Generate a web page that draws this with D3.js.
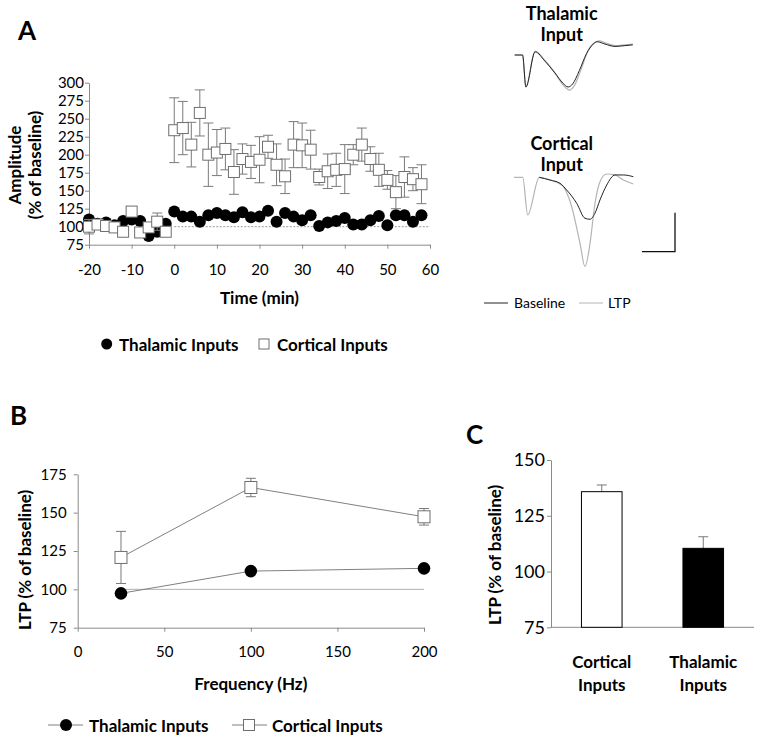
<!DOCTYPE html>
<html>
<head>
<meta charset="utf-8">
<script src="https://cdn.jsdelivr.net/npm/d3@7"></script>
<style>
body { margin: 0; background: #fff; }
svg text { font-family: Lato, 'Open Sans', sans-serif; fill: #000; }
</style>
</head>
<body>
<svg id="svg" width="762" height="744"></svg>
<script>
// ---- panel A data (amplitude, % of baseline) ----
const timeA = [-20, -18, -16, -14, -12, -10, -8, -6, -4, -2,
  0, 2, 4, 6, 8, 10, 12, 14, 16, 18, 20, 22, 24, 26, 28, 30, 32, 34, 36, 38,
  40, 42, 44, 46, 48, 50, 52, 54, 56, 58];
const thalamicA = [110, 104, 106, 102, 108, 110, 108, 87, 93, 104,
  121, 114, 114, 107, 116, 119, 116, 113, 120, 113, 114, 122, 107, 119, 114, 109, 116, 101, 106, 108,
  112, 103, 103, 109, 115, 102, 116, 116, 107, 116];
const corticalA = [100, 103, 101, 99, 93, 121, 92, 99, 107, 93,
  234, 237, 214, 258, 200, 203, 208, 176, 194, 190, 193, 211, 186, 170, 214, 213, 207, 169, 177, 179,
  180, 200, 214, 194, 179, 165, 148, 169, 166, 159];
const corticalAErr = [10, 5, 5, 5, 6, 6, 6, 6, 12, 6,
  45, 37, 31, 32, 44, 32, 29, 31, 21, 23, 32, 16, 29, 24, 32, 31, 27, 11, 24, 23,
  34, 14, 23, 17, 23, 13, 23, 28, 16, 27];
const xTicksA = [-20, -10, 0, 10, 20, 30, 40, 50, 60];
const yTicksA = [75, 100, 125, 150, 175, 200, 225, 250, 275, 300];

// ---- example traces (ms, mV) ----
const thalBase = [[0.1, 0], [1.3, 0], [1.8, -0.41], [3.2, 0.04], [4.7, -0.08], [6.2, -0.23], [7.4, -0.36],
  [8.2, -0.41], [8.9, -0.37], [9.9, -0.2], [11.0, 0.02], [12.0, 0.14], [12.6, 0.17], [13.8, 0.14],
  [15.3, 0.11], [16.8, 0.12], [18.0, 0.13]];
const thalLTP = [[0.1, 0], [1.3, 0], [1.8, -0.41], [3.2, 0.05], [4.7, -0.07], [6.2, -0.23], [7.5, -0.39],
  [8.4, -0.45], [9.1, -0.4], [10.1, -0.2], [11.2, 0.05], [12.2, 0.16], [12.9, 0.18], [14.0, 0.15],
  [15.3, 0.12], [16.8, 0.13], [18.0, 0.14]];
const cortBase = [[3.83, 0], [5.45, -0.035], [6.97, -0.077], [7.98, -0.163], [9.5, -0.333], [10.76, -0.526],
  [11.52, -0.538], [12.27, -0.46], [13.03, -0.29], [14.05, -0.099], [15.3, 0.03], [16.56, 0.03], [18.08, 0.008]];
const cortLTP = [[0, 0], [1.32, 0], [2.08, -0.483], [3.83, 0], [5.45, -0.035], [6.97, -0.086], [7.47, -0.12],
  [8.74, -0.377], [10.0, -0.846], [10.76, -1.146], [11.52, -0.846], [12.27, -0.333], [13.03, -0.056],
  [14.05, 0.042], [15.3, 0.03], [16.56, -0.035], [18.08, -0.086]];
const scaleBarMs = 5;
const scaleBarMv = 0.5;

// ---- panel B data (LTP vs frequency) ----
const freqB = [25, 100, 200];
const corticalB = [120.8, 166.4, 147.3];
const corticalBErr = [17, 6, 5.4];
const thalamicB = [97.4, 111.9, 113.7];
const xTicksB = [0, 50, 100, 150, 200];
const yTicksB = [75, 100, 125, 150, 175];

// ---- panel C data ----
const groupsC = ['Cortical Inputs', 'Thalamic Inputs'];
const ltpC = [135.8, 110.4];
const ltpCErr = [3, 5.2];
const yTicksC = [75, 100, 125, 150];

const svg = d3.select('#svg');
const axisColor = '#8a8a8a';
const errColor = '#7a7a7a';

const styleAxis = (g, fontSize) => {
  g.attr('font-family', null).attr('font-size', null);
  g.selectAll('path, line').attr('stroke', axisColor);
  g.selectAll('text').style('font-size', fontSize + 'px').attr('fill', '#000');
};

const errPath = (x, lo, hi, cap) =>
  `M${x},${hi}V${lo}M${x - cap},${hi}H${x + cap}M${x - cap},${lo}H${x + cap}`;

//------ panel A ------
const xA = d3.scaleLinear().domain([-20, 60]).range([89, 430]);
const yA = d3.scaleLinear().domain([75, 300]).range([244.7, 82.7]);

svg.append('g').attr('transform', `translate(0,${yA(75)})`)
  .call(d3.axisBottom(xA).tickValues(xTicksA).tickSize(4).tickSizeOuter(0).tickPadding(16).tickFormat(d => String(d)))
  .call(g => styleAxis(g, 15));
svg.append('g').attr('transform', `translate(${xA(-20)},0)`)
  .call(d3.axisLeft(yA).tickValues(yTicksA).tickSize(4).tickSizeOuter(0).tickPadding(1))
  .call(g => styleAxis(g, 15));

// dotted baseline
svg.append('line')
  .attr('x1', xA(0)).attr('x2', xA(60))
  .attr('y1', yA(100)).attr('y2', yA(100))
  .attr('stroke', '#999').attr('stroke-width', 1).attr('stroke-dasharray', '2,1.5');

svg.append('g').selectAll('circle')
  .data(timeA.map((t, i) => [t, thalamicA[i]]))
  .join('circle')
  .attr('cx', d => xA(d[0])).attr('cy', d => yA(d[1])).attr('r', 6)
  .attr('fill', '#000');

svg.append('g').selectAll('path')
  .data(timeA.map((t, i) => [t, corticalA[i], corticalAErr[i]]))
  .join('path')
  .attr('d', d => errPath(xA(d[0]), yA(d[1] - d[2]), yA(d[1] + d[2]), 5))
  .attr('stroke', errColor).attr('stroke-width', 1).attr('fill', 'none');

svg.append('g').selectAll('rect')
  .data(timeA.map((t, i) => [t, corticalA[i]]))
  .join('rect')
  .attr('x', d => xA(d[0]) - 5.5).attr('y', d => yA(d[1]) - 5.5)
  .attr('width', 11).attr('height', 11)
  .attr('fill', '#fff').attr('stroke', '#6e6e6e').attr('stroke-width', 1);

svg.append('text').attr('x', 18).attr('y', 40).text('A')
  .style('font-size', '26px').style('font-weight', 'bold');
svg.append('text').attr('x', (xA(-20) + xA(60)) / 2).attr('y', 298).attr('dy', '0.35em')
  .attr('text-anchor', 'middle').text('Time (min)')
  .style('font-size', '17px').style('font-weight', 'bold');
[['Amplitude', 15], ['(% of baseline)', 35]].forEach(([t, x]) => {
  svg.append('text').attr('transform', `translate(${x},165) rotate(-90)`)
    .attr('dy', '0.35em').attr('text-anchor', 'middle').text(t)
    .style('font-size', '17px').style('font-weight', 'bold');
});

// legend A
svg.append('circle').attr('cx', 106.7).attr('cy', 344).attr('r', 5.5).attr('fill', '#000');
svg.append('text').attr('x', 119).attr('y', 345).attr('dy', '0.35em').text('Thalamic Inputs')
  .style('font-size', '17px').style('font-weight', 'bold');
svg.append('rect').attr('x', 259).attr('y', 339).attr('width', 10).attr('height', 10)
  .attr('fill', '#fff').attr('stroke', '#6e6e6e');
svg.append('text').attr('x', 277).attr('y', 345).attr('dy', '0.35em').text('Cortical Inputs')
  .style('font-size', '17px').style('font-weight', 'bold');

//------ traces ------
const xT = d3.scaleLinear().domain([0, 18]).range([514, 632.8]);
const yTh = d3.scaleLinear().domain([-0.5, 0.5]).range([94, 16]);
const yCo = d3.scaleLinear().domain([-0.5, 0.5]).range([216.3, 138.3]);

const trace = (data, y, color, w) => {
  svg.append('path').datum(data)
    .attr('d', d3.line().x(d => xT(d[0])).y(d => y(d[1])).curve(d3.curveMonotoneX))
    .attr('fill', 'none').attr('stroke', color).attr('stroke-width', w)
    .attr('stroke-linejoin', 'round');
};
trace(thalLTP, yTh, '#b4b4b4', 1.2);
trace(thalBase, yTh, '#222', 1);
trace(cortLTP, yCo, '#b4b4b4', 1.2);
trace(cortBase, yCo, '#222', 1);

[['Thalamic', 14], ['Input', 35], ['Cortical', 143.3], ['Input', 165]].forEach(([t, y]) => {
  svg.append('text').attr('x', 561.7).attr('y', y).attr('dy', '0.35em')
    .attr('text-anchor', 'middle').text(t)
    .style('font-size', '18px').style('font-weight', 'bold');
});

// scale bar
const barX = 675, barY = 251.7;
const barW = xT(scaleBarMs) - xT(0);
const barH = yCo(0) - yCo(scaleBarMv);
svg.append('path')
  .attr('d', `M${barX - barW},${barY}H${barX}V${barY - barH}`)
  .attr('fill', 'none').attr('stroke', '#111').attr('stroke-width', 1.3);

// trace legend
svg.append('line').attr('x1', 484).attr('x2', 508).attr('y1', 303).attr('y2', 303)
  .attr('stroke', '#222').attr('stroke-width', 1);
svg.append('text').attr('x', 514).attr('y', 303).attr('dy', '0.35em').text('Baseline')
  .style('font-size', '14px');
svg.append('line').attr('x1', 579).attr('x2', 603).attr('y1', 303).attr('y2', 303)
  .attr('stroke', '#b4b4b4').attr('stroke-width', 1);
svg.append('text').attr('x', 608).attr('y', 303).attr('dy', '0.35em').text('LTP')
  .style('font-size', '14px');

//------ panel B ------
const xB = d3.scaleLinear().domain([0, 200]).range([77.7, 424]);
const yB = d3.scaleLinear().domain([75, 175]).range([627.7, 474.3]);

svg.append('g').attr('transform', `translate(0,${yB(75)})`)
  .call(d3.axisBottom(xB).tickValues(xTicksB).tickSize(4).tickSizeOuter(0).tickPadding(15))
  .call(g => styleAxis(g, 15));
svg.append('g').attr('transform', `translate(${xB(0)},0)`)
  .call(d3.axisLeft(yB).tickValues(yTicksB).tickSize(4).tickSizeOuter(0).tickPadding(7))
  .call(g => styleAxis(g, 15));

svg.append('line')
  .attr('x1', xB(freqB[0])).attr('x2', xB(200))
  .attr('y1', yB(100)).attr('y2', yB(100))
  .attr('stroke', '#b0b0b0').attr('stroke-width', 1);

const lineB = d3.line().x(d => xB(d[0])).y(d => yB(d[1]));
svg.append('path').datum(freqB.map((f, i) => [f, thalamicB[i]]))
  .attr('d', lineB).attr('fill', 'none').attr('stroke', '#808080').attr('stroke-width', 1);
svg.append('path').datum(freqB.map((f, i) => [f, corticalB[i]]))
  .attr('d', lineB).attr('fill', 'none').attr('stroke', '#808080').attr('stroke-width', 1);

svg.append('g').selectAll('circle')
  .data(freqB.map((f, i) => [f, thalamicB[i]]))
  .join('circle')
  .attr('cx', d => xB(d[0])).attr('cy', d => yB(d[1])).attr('r', 6.3).attr('fill', '#000');

svg.append('g').selectAll('path')
  .data(freqB.map((f, i) => [f, corticalB[i], corticalBErr[i]]))
  .join('path')
  .attr('d', d => errPath(xB(d[0]), yB(d[1] - d[2]), yB(d[1] + d[2]), 5))
  .attr('stroke', errColor).attr('fill', 'none');
svg.append('g').selectAll('rect')
  .data(freqB.map((f, i) => [f, corticalB[i]]))
  .join('rect')
  .attr('x', d => xB(d[0]) - 6).attr('y', d => yB(d[1]) - 6)
  .attr('width', 12).attr('height', 12)
  .attr('fill', '#fff').attr('stroke', '#6e6e6e');

svg.append('text').attr('x', 10).attr('y', 425).text('B')
  .style('font-size', '26px').style('font-weight', 'bold');
svg.append('text').attr('x', (xB(0) + xB(200)) / 2).attr('y', 684).attr('dy', '0.35em')
  .attr('text-anchor', 'middle').text('Frequency (Hz)')
  .style('font-size', '17px').style('font-weight', 'bold');
svg.append('text').attr('transform', 'translate(25,560) rotate(-90)')
  .attr('dy', '0.35em').attr('text-anchor', 'middle').text('LTP (% of baseline)')
  .style('font-size', '17px').style('font-weight', 'bold');

// legend B
svg.append('line').attr('x1', 48).attr('x2', 83).attr('y1', 725).attr('y2', 725).attr('stroke', '#808080');
svg.append('circle').attr('cx', 66).attr('cy', 725).attr('r', 6).attr('fill', '#000');
svg.append('text').attr('x', 89).attr('y', 726).attr('dy', '0.35em').text('Thalamic Inputs')
  .style('font-size', '17px').style('font-weight', 'bold');
svg.append('line').attr('x1', 232).attr('x2', 267).attr('y1', 725).attr('y2', 725).attr('stroke', '#808080');
svg.append('rect').attr('x', 243.5).attr('y', 719.5).attr('width', 11).attr('height', 11)
  .attr('fill', '#fff').attr('stroke', '#6e6e6e');
svg.append('text').attr('x', 272).attr('y', 726).attr('dy', '0.35em').text('Cortical Inputs')
  .style('font-size', '17px').style('font-weight', 'bold');

//------ panel C ------
const xC = d3.scaleBand().domain(groupsC).range([551, 754]).paddingInner(0.6).paddingOuter(0.3);
const yC = d3.scaleLinear().domain([75, 150]).range([627.3, 460]);

svg.append('g').attr('transform', `translate(${xC.range()[0]},0)`)
  .call(d3.axisLeft(yC).tickValues(yTicksC).tickSize(4).tickSizeOuter(0).tickPadding(2))
  .call(g => styleAxis(g, 18));
svg.append('line')
  .attr('x1', xC.range()[0]).attr('x2', xC.range()[1])
  .attr('y1', yC(75)).attr('y2', yC(75))
  .attr('stroke', axisColor);

svg.append('g').selectAll('path')
  .data(groupsC.map((g, i) => [g, ltpC[i], ltpCErr[i]]))
  .join('path')
  .attr('d', d => {
    const cx = xC(d[0]) + xC.bandwidth() / 2;
    return errPath(cx, yC(d[1] - d[2]), yC(d[1] + d[2]), 5);
  })
  .attr('stroke', errColor).attr('fill', 'none');

svg.append('g').selectAll('rect')
  .data(groupsC.map((g, i) => [g, ltpC[i], i]))
  .join('rect')
  .attr('x', d => xC(d[0])).attr('width', xC.bandwidth())
  .attr('y', d => yC(d[1])).attr('height', d => yC(75) - yC(d[1]))
  .attr('fill', d => d[2] === 0 ? '#fff' : '#000')
  .attr('stroke', '#000').attr('stroke-width', 1);

groupsC.forEach(g => {
  const cx = xC(g) + xC.bandwidth() / 2;
  g.split(' ').forEach((w, j) => {
    svg.append('text').attr('x', cx).attr('y', 662 + j * 23).attr('dy', '0.35em')
      .attr('text-anchor', 'middle').text(w)
      .style('font-size', '17px').style('font-weight', 'bold');
  });
});

svg.append('text').attr('x', 466).attr('y', 444).text('C')
  .style('font-size', '26px').style('font-weight', 'bold');
svg.append('text').attr('transform', 'translate(495,555) rotate(-90)')
  .attr('dy', '0.35em').attr('text-anchor', 'middle').text('LTP (% of baseline)')
  .style('font-size', '17px').style('font-weight', 'bold');
</script>
</body>
</html>
